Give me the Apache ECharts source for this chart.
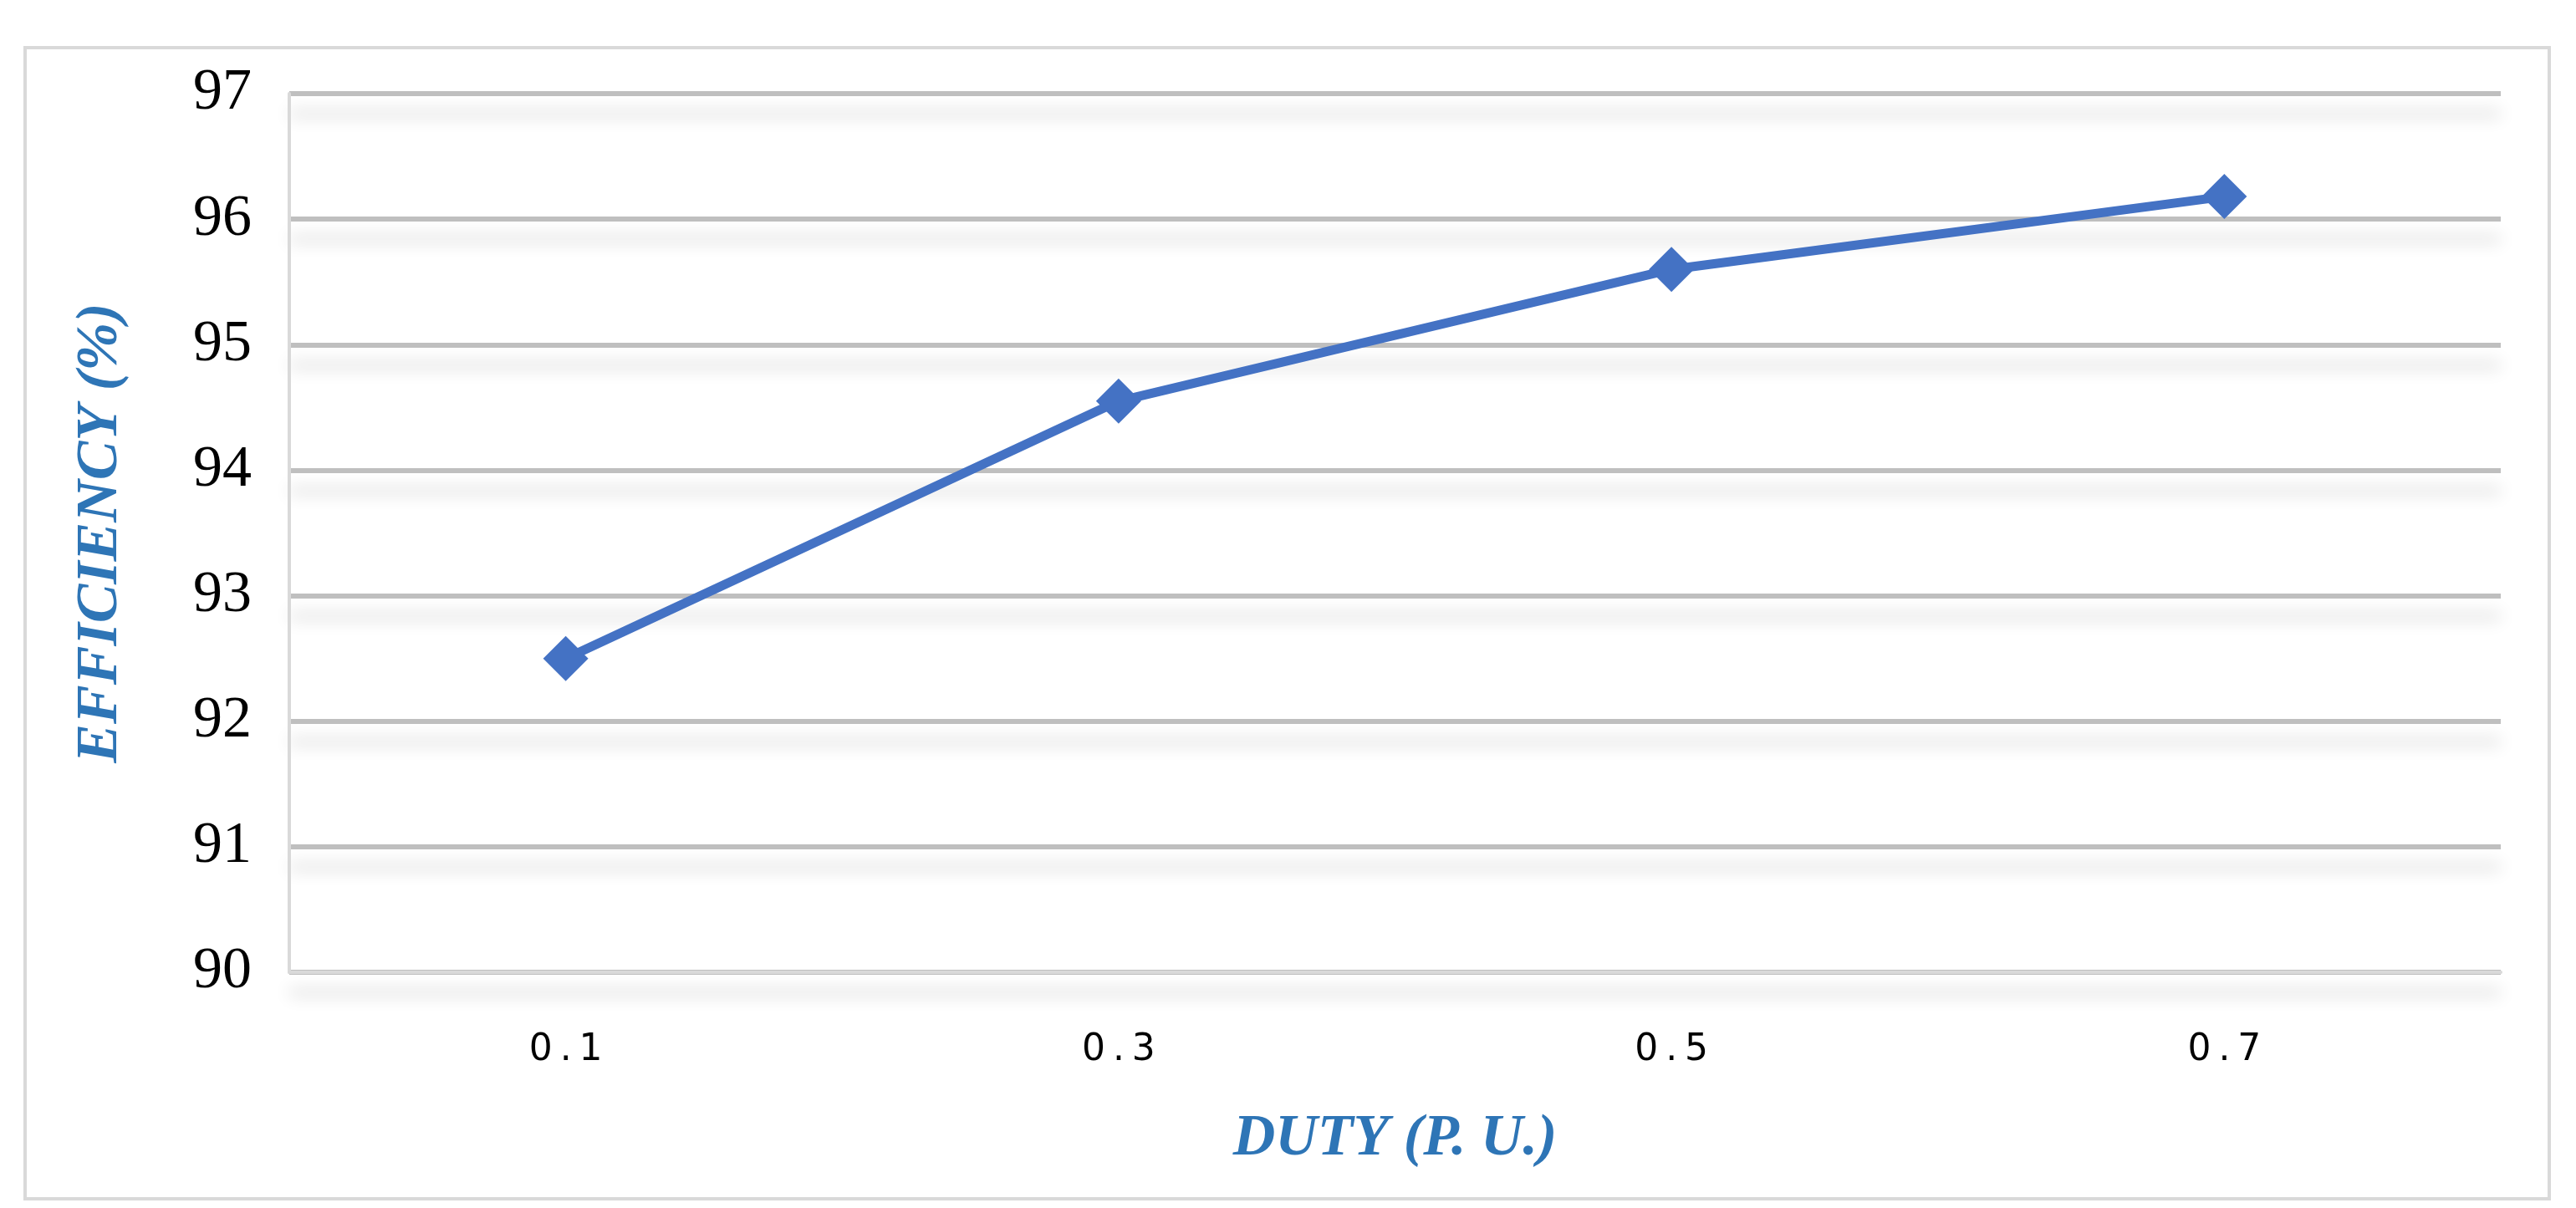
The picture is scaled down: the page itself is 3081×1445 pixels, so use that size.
<!DOCTYPE html>
<html><head><meta charset="utf-8">
<script src="https://cdn.jsdelivr.net/npm/echarts@6/dist/echarts.min.js"></script>
<style>html,body{margin:0;padding:0;background:#fff}#c{width:3081px;height:1445px;}
#b{position:absolute;left:28px;top:55px;width:3023px;height:1381px;border:4px solid #D9D9D9;box-sizing:border-box;pointer-events:none}</style>
</head><body><div id="c"></div><div id="b"></div>
<script>
const categories = ['0.1', '0.3', '0.5', '0.7'];
const efficiency = [92.5, 94.55, 95.6, 96.18];
const chart = echarts.init(document.getElementById('c'));
chart.setOption({
  animation: false,
  grid: {left: 346, right: 90, top: 112, bottom: 282},
  xAxis: {
    type: 'category', data: categories, boundaryGap: true,
    name: 'DUTY (P. U.)', nameLocation: 'middle', nameGap: 165,
    nameTextStyle: {fontFamily: 'Liberation Serif', fontStyle: 'italic', fontWeight: 'bold', fontSize: 70, color: '#2E75B6'},
    axisLine: {lineStyle: {color: '#D9D9D9', width: 4}},
    axisTick: {show: false},
    axisLabel: {fontFamily: 'DejaVu Sans', fontSize: 44, color: '#000', margin: 72,
      formatter: v => v.split('').join('\u2009')}
  },
  yAxis: {
    type: 'value', min: 90, max: 97, interval: 1,
    name: 'EFFICIENCY (%)', nameLocation: 'middle', nameGap: 190,
    nameTextStyle: {fontFamily: 'Liberation Serif', fontStyle: 'italic', fontWeight: 'bold', fontSize: 70, color: '#2E75B6'},
    axisLine: {show: true, lineStyle: {color: '#D9D9D9', width: 4}},
    axisTick: {show: false},
    axisLabel: {fontFamily: 'Liberation Serif', fontSize: 70, color: '#000', margin: 115, align: 'left'},
    splitLine: {lineStyle: {color: '#BFBFBF', width: 6, shadowColor: 'rgba(0,0,0,0.2)', shadowBlur: 20, shadowOffsetY: 24}}
  },
  series: [{
    type: 'line', data: efficiency,
    lineStyle: {color: '#4472C4', width: 11},
    symbol: 'diamond', symbolSize: 54,
    itemStyle: {color: '#4472C4'}
  }]
});
</script></body></html>
